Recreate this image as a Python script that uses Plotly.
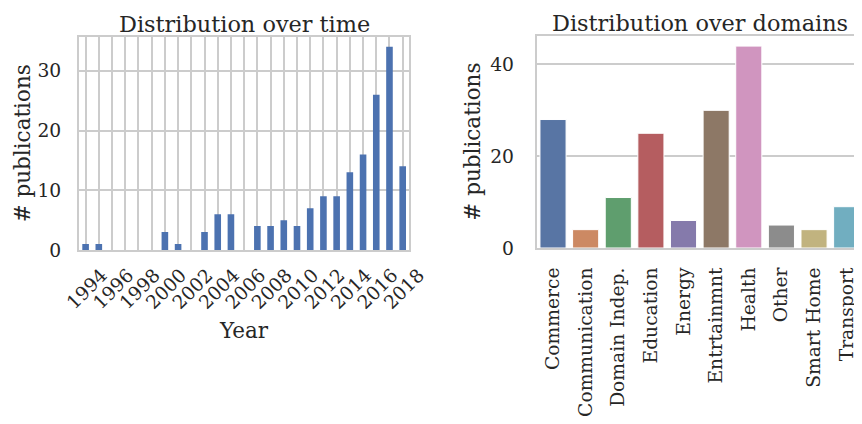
import plotly.graph_objects as go

# ---- data ----
years = list(range(1994, 2019))
year_counts = [1, 1, 0, 0, 0, 0, 3, 1, 0, 3, 6, 6, 0, 4, 4, 5, 4, 7, 9, 9, 13, 16, 26, 34, 14]
year_labels = [str(y) if y % 2 == 0 else "" for y in years]

domains = ["Commerce", "Communication", "Domain Indep.", "Education", "Energy",
           "Entrtainmnt", "Health", "Other", "Smart Home", "Transport"]
domain_counts = [28, 4, 11, 25, 6, 30, 44, 5, 4, 9]
domain_colors = ["#5875a4", "#cc8963", "#5f9e6e", "#b55d60", "#857aab",
                 "#8d7866", "#d095bf", "#8c8c8c", "#c1b37f", "#71aec0"]

# page body has an 8px margin: figure occupies (8,8)-(862,424) of the window
OFF = 8
W, H = 862 - OFF, 424 - OFF
FONT = "DejaVu Serif"
GRID = "#cccccc"
TXT = "#262626"


def px_x(v):
    return (v - OFF) / W


def px_y(v):
    return 1 - (v - OFF) / H


fig = go.Figure()
fig.add_trace(go.Bar(x=years, y=year_counts, width=0.5,
                     marker=dict(color="#4c72b0", line=dict(width=0)),
                     xaxis="x", yaxis="y", showlegend=False))
fig.add_trace(go.Bar(x=domains, y=domain_counts, width=0.8,
                     marker=dict(color=domain_colors, line=dict(color="white", width=1)),
                     xaxis="x2", yaxis="y2", showlegend=False))

# window-pixel geometry of the two plot areas
L1, R1, T1, B1 = 79, 409.3, 36.7, 250
L2, T2, B2 = 536.7, 36, 248

axis_common = dict(showline=True, linecolor=GRID, linewidth=2, mirror=True,
                   gridcolor=GRID, gridwidth=1.7, zeroline=False, ticks="",
                   automargin=False,
                   tickfont=dict(family=FONT, size=18.7, color=TXT))

fig.update_layout(
    width=W, height=H,
    margin=dict(l=0, r=0, t=0, b=0, autoexpand=False),
    paper_bgcolor="white", plot_bgcolor="white",
    font=dict(family=FONT, color=TXT),
    xaxis=dict(domain=[px_x(L1), px_x(R1)], range=[1993.5, 2018.5],
               tickmode="array", tickvals=years, ticktext=year_labels,
               tickangle=-45, showgrid=True, ticklabelshift=16,
               ticklabelstandoff=5, anchor="y", **axis_common),
    yaxis=dict(domain=[px_y(B1), px_y(T1)], range=[0, 35.7],
               tickmode="array", tickvals=[0, 10, 20, 30], showgrid=True,
               ticklabelstandoff=12, anchor="x", **axis_common),
    xaxis2=dict(domain=[px_x(L2), 1], range=[-0.5, 9.47], type="category",
                tickangle=-90, showgrid=False, ticklabelstandoff=10,
                anchor="y2", **axis_common),
    yaxis2=dict(domain=[px_y(B2), px_y(T2)], range=[0, 46.2],
                tickmode="array", tickvals=[0, 20, 40], showgrid=True,
                ticklabelstandoff=17, anchor="x2", **axis_common),
)

ann_font = dict(family=FONT, size=22.4, color=TXT)
lab_font = dict(family=FONT, size=21.5, color=TXT)
annotations = [
    dict(text="Distribution over time", x=px_x((L1 + R1) / 2), y=px_y(T1),
         xref="paper", yref="paper", xanchor="center", yanchor="bottom",
         yshift=-1, borderpad=0, showarrow=False, font=ann_font),
    dict(text="Distribution over domains", x=px_x((L2 + 863) / 2), y=px_y(T2),
         xref="paper", yref="paper", xanchor="center", yanchor="bottom",
         yshift=-1, borderpad=0, showarrow=False, font=ann_font),
    dict(text="Year", x=px_x((L1 + R1) / 2), y=px_y(330),
         xref="paper", yref="paper", xanchor="center", yanchor="middle",
         showarrow=False, font=lab_font),
    dict(text="# publications", x=px_x(22), y=px_y((T1 + B1) / 2), textangle=-90,
         xref="paper", yref="paper", xanchor="center", yanchor="middle",
         showarrow=False, font=lab_font),
    dict(text="# publications", x=px_x(471.7), y=px_y((T2 + B2) / 2), textangle=-90,
         xref="paper", yref="paper", xanchor="center", yanchor="middle",
         showarrow=False, font=lab_font),
]
fig.update_layout(annotations=annotations)

fig.write_html("out.html")
